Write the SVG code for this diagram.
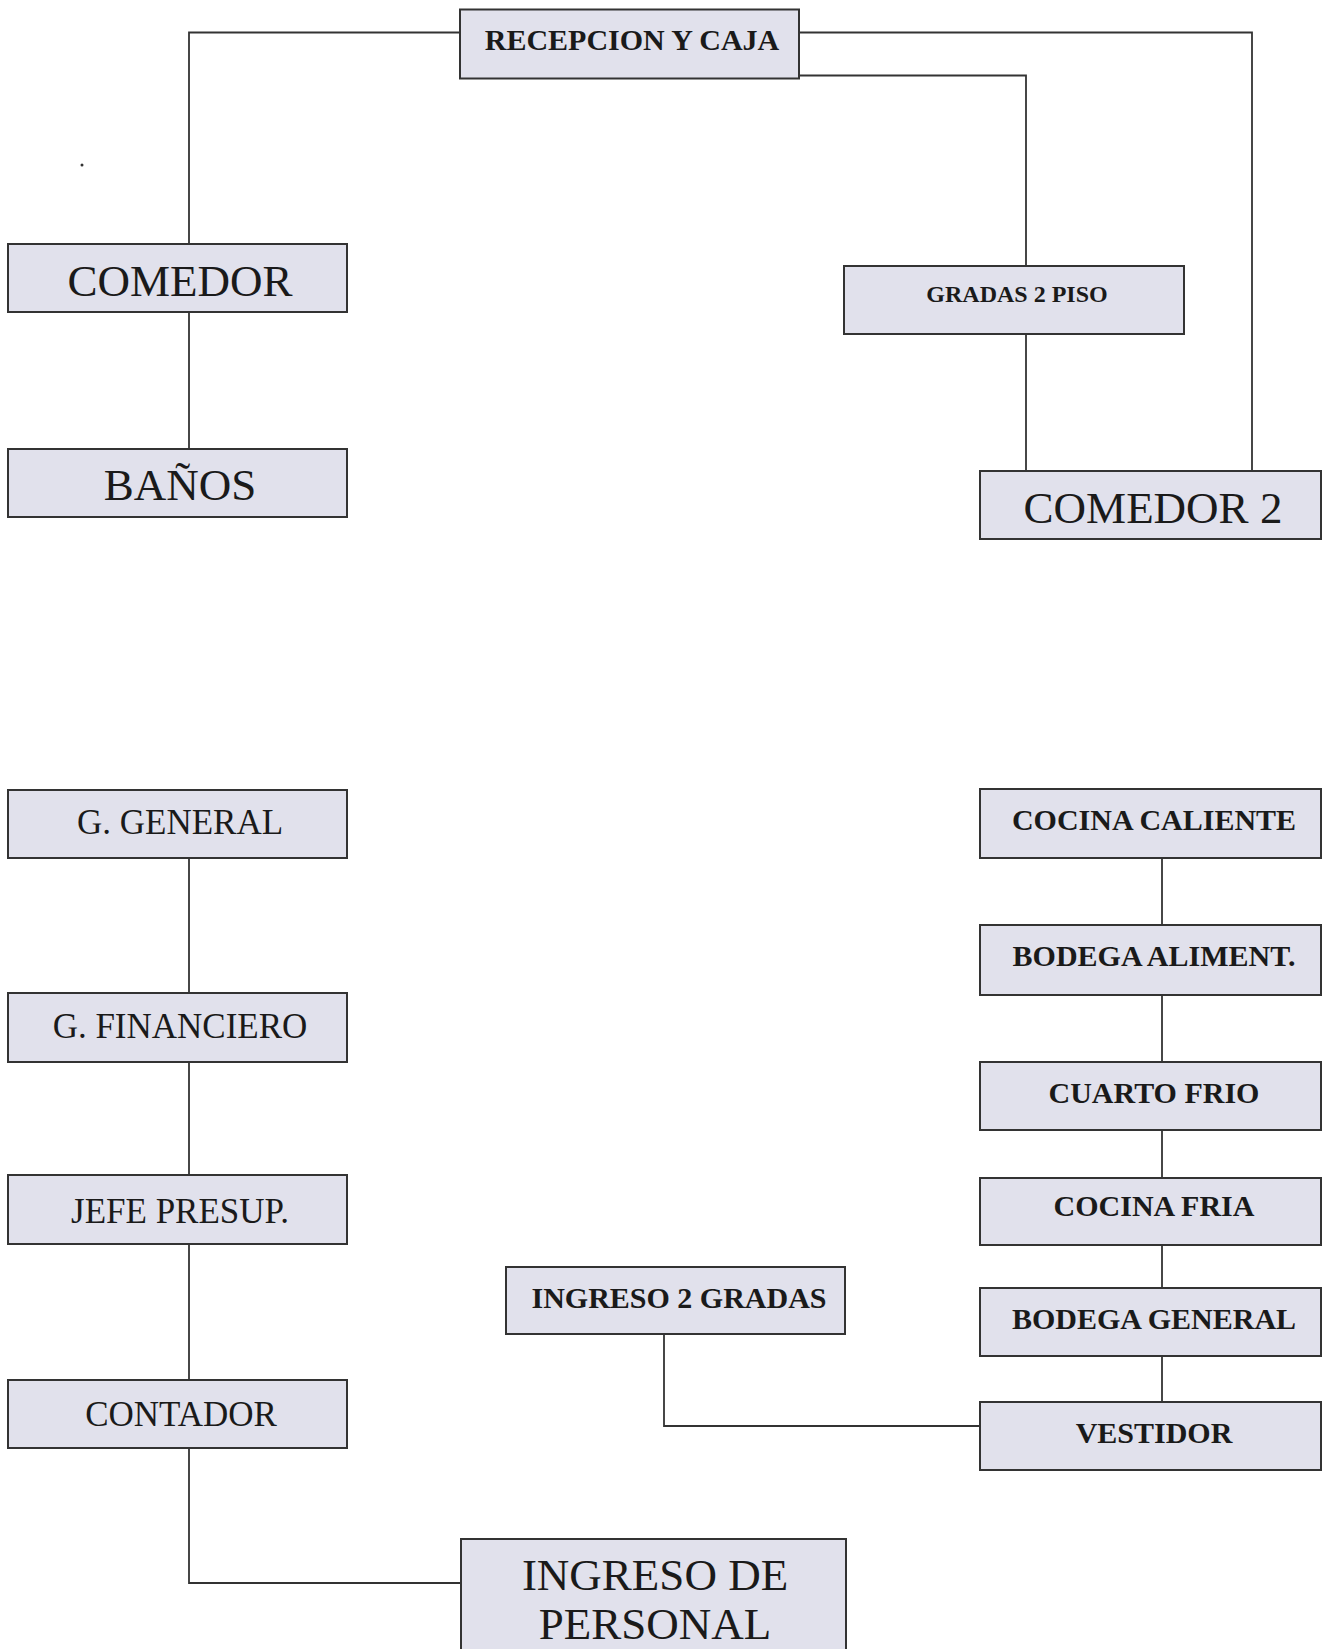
<svg xmlns="http://www.w3.org/2000/svg" width="1330" height="1649" viewBox="0 0 1330 1649">
<style>
.box{fill:#e1e1ec;stroke:#333;stroke-width:2}
.c{fill:none;stroke:#333;stroke-width:1.8}
.r{font-family:"Liberation Serif","Times New Roman",serif;fill:#1a1a1a;text-anchor:middle}
.b{font-family:"Liberation Serif","Times New Roman",serif;font-weight:bold;fill:#1a1a1a;text-anchor:middle}
</style>
<rect width="1330" height="1649" fill="#ffffff"/>
<g id="connectors">
<polyline class="c" points="460,32.5 189,32.5 189,244"/>
<polyline class="c" points="799,32.5 1252,32.5 1252,471"/>
<polyline class="c" points="799,75.5 1026,75.5 1026,266"/>
<line class="c" x1="1026" y1="334" x2="1026" y2="471"/>
<line class="c" x1="189" y1="312" x2="189" y2="449"/>
<line class="c" x1="189" y1="858" x2="189" y2="993"/>
<line class="c" x1="189" y1="1062" x2="189" y2="1175"/>
<line class="c" x1="189" y1="1244" x2="189" y2="1380"/>
<polyline class="c" points="189,1448 189,1583 461,1583"/>
<line class="c" x1="1162" y1="858" x2="1162" y2="925"/>
<line class="c" x1="1162" y1="995" x2="1162" y2="1062"/>
<line class="c" x1="1162" y1="1130" x2="1162" y2="1178"/>
<line class="c" x1="1162" y1="1245" x2="1162" y2="1288"/>
<line class="c" x1="1162" y1="1356" x2="1162" y2="1402"/>
<polyline class="c" points="664,1334 664,1426 980,1426"/>
</g>
<g id="recepcion"><rect class="box" x="460" y="9.5" width="339" height="69"/><text class="b" x="632" y="49.5" font-size="30">RECEPCION Y CAJA</text></g>
<g id="comedor"><rect class="box" x="8" y="244" width="339" height="68"/><text class="r" x="180" y="296" font-size="45">COMEDOR</text></g>
<g id="banos"><rect class="box" x="8" y="449" width="339" height="68"/><text class="r" x="180" y="500" font-size="45">BAÑOS</text></g>
<g id="gradas2piso"><rect class="box" x="844" y="266" width="340" height="68"/><text class="b" x="1017" y="302" font-size="24">GRADAS 2 PISO</text></g>
<g id="comedor2"><rect class="box" x="980" y="471" width="341" height="68"/><text class="r" x="1153" y="523" font-size="45">COMEDOR 2</text></g>
<g id="ggeneral"><rect class="box" x="8" y="790" width="339" height="68"/><text class="r" x="180" y="834" font-size="35">G. GENERAL</text></g>
<g id="gfinanciero"><rect class="box" x="8" y="993" width="339" height="69"/><text class="r" x="180" y="1038" font-size="35">G. FINANCIERO</text></g>
<g id="jefepresup"><rect class="box" x="8" y="1175" width="339" height="69"/><text class="r" x="180" y="1223" font-size="35">JEFE PRESUP.</text></g>
<g id="contador"><rect class="box" x="8" y="1380" width="339" height="68"/><text class="r" x="181" y="1426" font-size="35">CONTADOR</text></g>
<g id="ingresopersonal"><rect class="box" x="461" y="1539" width="385" height="120"/><text class="r" x="655" y="1590" font-size="45">INGRESO DE</text><text class="r" x="655" y="1639" font-size="45">PERSONAL</text></g>
<g id="ingreso2gradas"><rect class="box" x="506" y="1267" width="339" height="67"/><text class="b" x="679" y="1308" font-size="30">INGRESO 2 GRADAS</text></g>
<g id="cocinacaliente"><rect class="box" x="980" y="789" width="341" height="69"/><text class="b" x="1154" y="830" font-size="30">COCINA CALIENTE</text></g>
<g id="bodegaaliment"><rect class="box" x="980" y="925" width="341" height="70"/><text class="b" x="1154" y="966" font-size="30">BODEGA ALIMENT.</text></g>
<g id="cuartofrio"><rect class="box" x="980" y="1062" width="341" height="68"/><text class="b" x="1154" y="1103" font-size="30">CUARTO FRIO</text></g>
<g id="cocinafria"><rect class="box" x="980" y="1178" width="341" height="67"/><text class="b" x="1154" y="1216" font-size="30">COCINA FRIA</text></g>
<g id="bodegageneral"><rect class="box" x="980" y="1288" width="341" height="68"/><text class="b" x="1154" y="1329" font-size="30">BODEGA GENERAL</text></g>
<g id="vestidor"><rect class="box" x="980" y="1402" width="341" height="68"/><text class="b" x="1154" y="1443" font-size="30">VESTIDOR</text></g>
<circle cx="82" cy="165" r="1.5" fill="#333"/>
</svg>
